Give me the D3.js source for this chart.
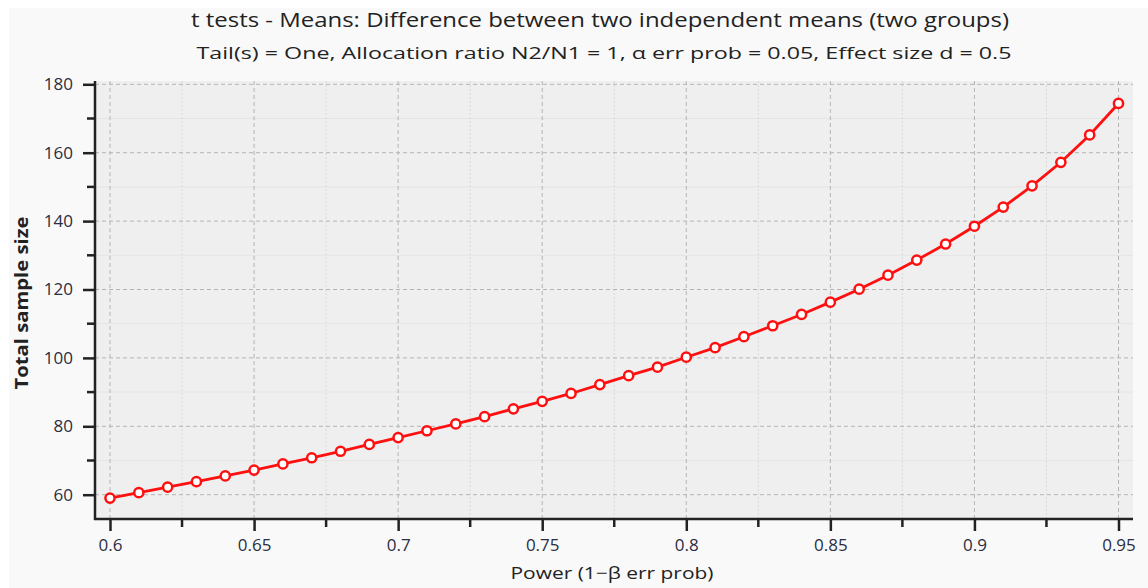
<!DOCTYPE html>
<html>
<head>
<meta charset="utf-8">
<script src="https://d3js.org/d3.v7.min.js"></script>
<style>
  body { margin: 0; background: #fff; }
  text { font-family: "Open Sans", "DejaVu Sans", sans-serif; }
</style>
</head>
<body>
<svg width="1148" height="588"></svg>
<script>
// power values (x) and total sample size (y)
var power = [0.60,0.61,0.62,0.63,0.64,0.65,0.66,0.67,0.68,0.69,
             0.70,0.71,0.72,0.73,0.74,0.75,0.76,0.77,0.78,0.79,
             0.80,0.81,0.82,0.83,0.84,0.85,0.86,0.87,0.88,0.89,
             0.90,0.91,0.92,0.93,0.94,0.95];
var sampleSize = [59.0,60.6,62.2,63.8,65.5,67.2,69.0,70.8,72.7,74.7,
                  76.7,78.7,80.7,82.8,85.1,87.3,89.6,92.2,94.8,97.3,
                  100.2,103.0,106.2,109.4,112.7,116.3,120.1,124.2,128.6,133.3,
                  138.5,144.1,150.3,157.2,165.2,174.4];
var xTicks = [0.6,0.65,0.7,0.75,0.8,0.85,0.9,0.95];
var xMinor = [0.625,0.675,0.725,0.775,0.825,0.875,0.925];
var yTicks = [60,80,100,120,140,160,180];
var yMinor = [70,90,110,130,150,170];

var title = "t tests - Means: Difference between two independent means (two groups)";
var subtitle = "Tail(s) = One, Allocation ratio N2/N1 = 1, \u03b1 err prob = 0.05, Effect size d = 0.5";

var svg = d3.select("svg");
var pLeft = 95, pRight = 1133, pTop = 81, pBottom = 519;

// outer panel
svg.append("rect").attr("x", 9).attr("y", 8).attr("width", 1139).attr("height", 580)
   .attr("fill", "#f9f9f9");
// plot area
svg.append("rect").attr("x", pLeft).attr("y", pTop).attr("width", pRight - pLeft).attr("height", pBottom - pTop)
   .attr("fill", "#efefef");

var x = d3.scaleLinear().domain([0.6, 0.95]).range([110, 1118.5]);
var y = d3.scaleLinear().domain([60, 180]).range([494.7, 84.3]);

var grid = svg.append("g");
grid.selectAll(".ymin").data(yMinor).enter().append("line")
  .attr("x1", pLeft).attr("x2", pRight)
  .attr("y1", function(d){ return y(d); }).attr("y2", function(d){ return y(d); })
  .attr("stroke", "#e4e4e4").attr("stroke-width", 1);
grid.selectAll(".xmin").data(xMinor).enter().append("line")
  .attr("y1", pTop).attr("y2", pBottom)
  .attr("x1", function(d){ return x(d); }).attr("x2", function(d){ return x(d); })
  .attr("stroke", "#d8d8d8").attr("stroke-width", 1).attr("stroke-dasharray", "2,2");
grid.selectAll(".ymaj").data(yTicks).enter().append("line")
  .attr("x1", pLeft).attr("x2", pRight)
  .attr("y1", function(d){ return y(d); }).attr("y2", function(d){ return y(d); })
  .attr("stroke", "#b4b4b4").attr("stroke-width", 1).attr("stroke-dasharray", "4,3");
grid.selectAll(".xmaj").data(xTicks).enter().append("line")
  .attr("y1", pTop).attr("y2", pBottom)
  .attr("x1", function(d){ return x(d); }).attr("x2", function(d){ return x(d); })
  .attr("stroke", "#b4b4b4").attr("stroke-width", 1).attr("stroke-dasharray", "4,3");

// axes
var yAxis = d3.axisLeft(y).tickValues(yTicks).tickSize(12).tickPadding(10).tickFormat(d3.format("d"));
var gy = svg.append("g").attr("transform", "translate(" + pLeft + ",0)").call(yAxis);
var xAxis = d3.axisBottom(x).tickValues(xTicks).tickSize(12).tickPadding(8).tickFormat(function(d){ return String(+d.toFixed(2)); });
var gx = svg.append("g").attr("transform", "translate(0," + pBottom + ")").call(xAxis);
[gx, gy].forEach(function(g){
  g.select(".domain").remove();
  g.selectAll(".tick line").attr("stroke", "#222").attr("stroke-width", 2.5);
  g.selectAll(".tick text").attr("fill", "#2b2d42").style("font-size", "17px");
});
svg.append("g").selectAll("line").data(yMinor).enter().append("line")
  .attr("x1", pLeft - 8).attr("x2", pLeft)
  .attr("y1", function(d){ return y(d); }).attr("y2", function(d){ return y(d); })
  .attr("stroke", "#222").attr("stroke-width", 2.5);
svg.append("g").selectAll("line").data(xMinor).enter().append("line")
  .attr("y1", pBottom).attr("y2", pBottom + 8)
  .attr("x1", function(d){ return x(d); }).attr("x2", function(d){ return x(d); })
  .attr("stroke", "#222").attr("stroke-width", 2.5);
svg.append("line").attr("x1", pLeft).attr("x2", pLeft).attr("y1", pTop).attr("y2", pBottom + 1)
   .attr("stroke", "#222").attr("stroke-width", 2.5);
svg.append("line").attr("x1", pLeft - 1).attr("x2", pRight).attr("y1", pBottom).attr("y2", pBottom)
   .attr("stroke", "#222").attr("stroke-width", 2.5);

// series
var pts = power.map(function(p, i){ return [p, sampleSize[i]]; });
svg.append("path").datum(pts)
  .attr("fill", "none").attr("stroke", "#ff1010").attr("stroke-width", 2.8)
  .attr("d", d3.line().x(function(d){ return x(d[0]); }).y(function(d){ return y(d[1]); }));
svg.append("g").selectAll("circle").data(pts).enter().append("circle")
  .attr("cx", function(d){ return x(d[0]); }).attr("cy", function(d){ return y(d[1]); })
  .attr("r", 4.6).attr("fill", "#fff").attr("stroke", "#ff1010").attr("stroke-width", 2.5);

// titles
function fitText(sel, w) {
  var len = sel.node().getComputedTextLength();
  if (len > 0) sel.attr("textLength", w).attr("lengthAdjust", "spacingAndGlyphs");
}
var t1 = svg.append("text").attr("x", 600).attr("y", 27).attr("text-anchor", "middle")
  .attr("fill", "#222").style("font-size", "20px").text(title);
fitText(t1, 818);
var t2 = svg.append("text").attr("x", 604).attr("y", 59).attr("text-anchor", "middle")
  .attr("fill", "#222").style("font-size", "17px").text(subtitle);
fitText(t2, 815);
var xl = svg.append("text").attr("x", 612).attr("y", 579).attr("text-anchor", "middle")
  .attr("fill", "#222").style("font-size", "17px").text("Power (1\u2212\u03b2 err prob)");
fitText(xl, 203);
var yl = svg.append("text").attr("transform", "translate(28,303) rotate(-90)").attr("text-anchor", "middle")
  .attr("fill", "#222").style("font-size", "17px").style("font-weight", "bold").text("Total sample size");
fitText(yl, 173);
</script>
</body>
</html>
